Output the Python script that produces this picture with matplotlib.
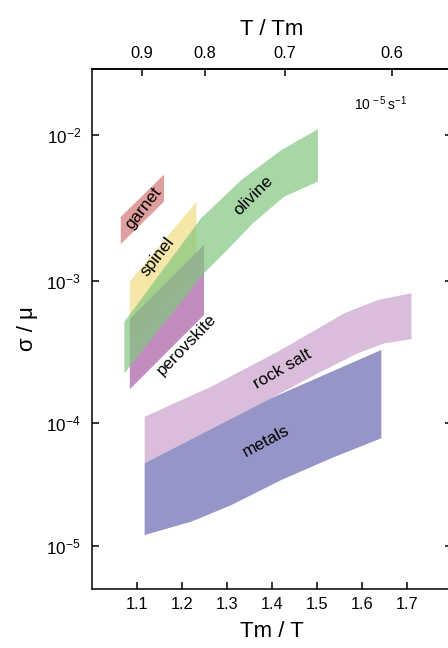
import numpy as np
import matplotlib
matplotlib.use('Agg')
import matplotlib.pyplot as plt

plt.rcParams['font.family'] = ['Liberation Sans', 'DejaVu Sans']
plt.rcParams['mathtext.fontset'] = 'custom'
plt.rcParams['mathtext.rm'] = 'Liberation Sans'
plt.rcParams['mathtext.it'] = 'Liberation Sans:italic'
plt.rcParams['mathtext.bf'] = 'Liberation Sans:bold'

# ---------------- data ----------------
garnet_up_x = [1.064, 1.160]
garnet_up_y = [2.75e-3, 5.35e-3]
garnet_lo_x = [1.064, 1.160]
garnet_lo_y = [1.79e-3, 3.49e-3]

spinel_up_x = [1.084, 1.232]
spinel_up_y = [9.9e-4, 3.49e-3]
spinel_lo_x = [1.084, 1.232]
spinel_lo_y = [3.83e-4, 1.39e-3]

perov_up_x = [1.084, 1.249]
perov_up_y = [5.37e-4, 1.77e-3]
perov_lo_x = [1.084, 1.249]
perov_lo_y = [1.72e-4, 5.75e-4]

olivine_up_x = [1.072, 1.154, 1.243, 1.332, 1.421, 1.502]
olivine_up_y = [5.16e-4, 1.153e-3, 2.70e-3, 4.92e-3, 7.89e-3, 1.094e-2]
olivine_lo_x = [1.072, 1.249, 1.294, 1.358, 1.427, 1.502]
olivine_lo_y = [2.23e-4, 1.13e-3, 1.556e-3, 2.49e-3, 3.78e-3, 4.79e-3]

rocksalt_up_x = [1.117, 1.265, 1.413, 1.561, 1.636, 1.710]
rocksalt_up_y = [1.10e-4, 1.795e-4, 3.17e-4, 5.92e-4, 7.35e-4, 8.19e-4]
rocksalt_lo_x = [1.117, 1.265, 1.398, 1.502, 1.591, 1.650, 1.710]
rocksalt_lo_y = [4.68e-5, 8.87e-5, 1.486e-4, 2.23e-4, 3.09e-4, 3.63e-4, 3.88e-4]

metals_up_x = [1.117, 1.398, 1.643]
metals_up_y = [4.68e-5, 1.486e-4, 3.26e-4]
metals_lo_x = [1.117, 1.221, 1.310, 1.421, 1.532, 1.643]
metals_lo_y = [1.22e-5, 1.567e-5, 2.14e-5, 3.42e-5, 5.14e-5, 7.47e-5]

bottom_ticks = [1.1, 1.2, 1.3, 1.4, 1.5, 1.6, 1.7]
bottom_labels = ['1.1', '1.2', '1.3', '1.4', '1.5', '1.6', '1.7']
top_ticks = [0.9, 0.8, 0.7, 0.6]
top_labels = ['0.9', '0.8', '0.7', '0.6']
y_ticks = [1e-5, 1e-4, 1e-3, 1e-2]
y_labels = [r'$10^{-5}$', r'$10^{-4}$', r'$10^{-3}$', r'$10^{-2}$']

# ---------------- y scale (decades as spaced in the reference) ----------------
LOGK = np.array([-5.0, -4.0, -3.0, -2.0])
POSK = np.array([0.0, 123.0, 264.7, 410.7])


def fwd(y):
    y = np.asarray(y, dtype=float)
    l = np.log10(np.clip(y, 1e-300, None))
    lo = POSK[0] + (l - LOGK[0]) * (POSK[1] - POSK[0])
    hi = POSK[-1] + (l - LOGK[-1]) * (POSK[-1] - POSK[-2])
    mid = np.interp(l, LOGK, POSK)
    return np.where(l < LOGK[0], lo, np.where(l > LOGK[-1], hi, mid))


def inv(p):
    p = np.asarray(p, dtype=float)
    lo = LOGK[0] + (p - POSK[0]) / (POSK[1] - POSK[0])
    hi = LOGK[-1] + (p - POSK[-1]) / (POSK[-1] - POSK[-2])
    mid = np.interp(p, POSK, LOGK)
    l = np.where(p < POSK[0], lo, np.where(p > POSK[-1], hi, mid))
    return 10.0 ** l


def recip(x):
    x = np.asarray(x, dtype=float)
    with np.errstate(divide='ignore', invalid='ignore'):
        return np.where(x == 0, np.inf, 1.0 / np.where(x == 0, 1.0, x))


fig = plt.figure(figsize=(4.48, 6.48), dpi=100)
ax = fig.add_axes([92 / 448, 59 / 648, 360 / 448, 520 / 648])
ax.set_yscale('function', functions=(fwd, inv))
ax.set_xlim(1.0, 1.8)
ax.set_ylim(4.44e-6, 2.83e-2)


def band(ux, uy, lx, ly, color, alpha=0.7):
    xs = list(ux) + list(lx)[::-1]
    ys = list(uy) + list(ly)[::-1]
    ax.fill(xs, ys, color=color, alpha=alpha, lw=0)


band(garnet_up_x, garnet_up_y, garnet_lo_x, garnet_lo_y, '#d47777')
band(spinel_up_x, spinel_up_y, spinel_lo_x, spinel_lo_y, '#f1de83')
band(perov_up_x, perov_up_y, perov_lo_x, perov_lo_y, '#a85ba5')
band(olivine_up_x, olivine_up_y, olivine_lo_x, olivine_lo_y, '#83c780')
band(rocksalt_up_x, rocksalt_up_y, rocksalt_lo_x, rocksalt_lo_y, '#caa2cd')
band(metals_up_x, metals_up_y, metals_lo_x, metals_lo_y, '#6969b0')

lab_fs = 12.3
ax.text(1.115, 3.16e-3, 'garnet', rotation=52, ha='center', va='center', fontsize=lab_fs)
ax.text(1.1447, 1.466e-3, 'spinel', rotation=52, ha='center', va='center', fontsize=lab_fs)
ax.text(1.2107, 3.53e-4, 'perovskite', rotation=46, ha='center', va='center', fontsize=lab_fs)
ax.text(1.3596, 3.82e-3, 'olivine', rotation=45, ha='center', va='center', fontsize=lab_fs)
ax.text(1.4229, 2.39e-4, 'rock salt', rotation=30, ha='center', va='center', fontsize=lab_fs)
ax.text(1.3862, 7.03e-5, 'metals', rotation=28, ha='center', va='center', fontsize=lab_fs)
ax.text(1.6407, 1.63e-2, r'$10^{\,-5}\,\mathrm{s}^{-1}$', ha='center', va='center', fontsize=10)

ax.set_xticks(bottom_ticks)
ax.set_xticklabels(bottom_labels)
ax.set_yticks(y_ticks)
ax.set_yticklabels(y_labels)
ax.yaxis.set_minor_locator(matplotlib.ticker.NullLocator())
ax.xaxis.set_minor_locator(matplotlib.ticker.NullLocator())
ax.tick_params(axis='x', direction='in', length=5, width=1.1, labelsize=11.8, pad=6, top=False)
ax.tick_params(axis='y', direction='in', length=5, width=1.1, labelsize=12.3, pad=8, right=True)
for s in ax.spines.values():
    s.set_linewidth(1.1)

sec = ax.secondary_xaxis('top', functions=(recip, recip))
sec.set_xticks(top_ticks)
sec.set_xticklabels(top_labels)
sec.xaxis.set_minor_locator(matplotlib.ticker.NullLocator())
sec.tick_params(direction='in', length=5, width=1.1, labelsize=11.8, pad=6)
sec.spines['top'].set_linewidth(1.1)
sec.set_xlabel('T / Tm', fontsize=16, labelpad=8)

ax.set_xlabel('Tm / T', fontsize=16, labelpad=6)
ax.set_ylabel('σ / μ', fontsize=16, labelpad=6)

fig.savefig('out.png', dpi=100)
